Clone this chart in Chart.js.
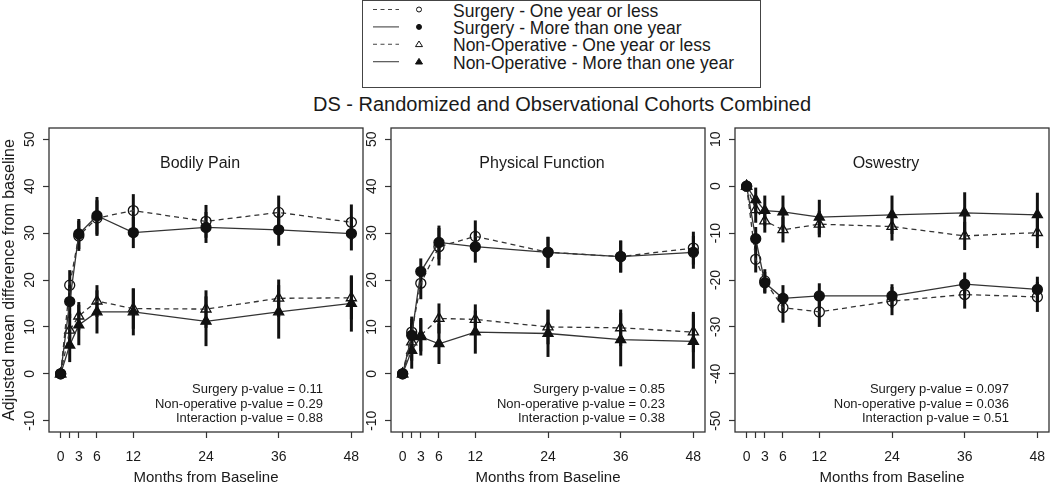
<!DOCTYPE html>
<html>
<head>
<meta charset="utf-8">
<script src="https://cdn.jsdelivr.net/npm/chart.js@4.4.1/dist/chart.umd.min.js"></script>
<style>
  body { margin: 0; width: 1050px; height: 484px; overflow: hidden; background: #fff; position: relative;
         font-family: 'Liberation Sans', Arial, Helvetica, sans-serif; color: #1a1a1a; }
  canvas { position: absolute; top: 120px; }
  #legendBox { position: absolute; left: 362px; top: 0px; width: 399px; height: 88px;
               border: 1.5px solid #444; box-sizing: border-box; }
  .lg { position: absolute; left: 453px; font-size: 17.5px; line-height: 17.5px; white-space: nowrap; }
  #title { position: absolute; left: 212px; width: 700px; top: 94px; text-align: center;
           font-size: 20px; line-height: 20px; white-space: nowrap; }
</style>
</head>
<body>
<div id="legendBox"></div>
<svg id="legendKeys" width="1050" height="90" style="position:absolute;left:0;top:0"></svg>
<div id="legendText"></div>
<div id="title">DS - Randomized and Observational Cohorts Combined</div>
<canvas id="c1" width="366" height="364" style="left:0px"></canvas>
<canvas id="c2" width="366" height="364" style="left:342px"></canvas>
<canvas id="c3" width="366" height="364" style="left:686px"></canvas>
<script>
// months from baseline (0, 6 weeks, 3, 6, 12, 24, 36, 48)
const months = [0, 1.5, 3, 6, 12, 24, 36, 48];
const xTickLabels = ['0', '', '3', '6', '12', '24', '36', '48'];
const seriesNames = [
  'Surgery - One year or less',
  'Surgery - More than one year',
  'Non-Operative - One year or less',
  'Non-Operative - More than one year'
];
const panelTitles = ['Bodily Pain', 'Physical Function', 'Oswestry'];

// Bodily Pain
const bpSurgLe = [0, 18.9, 29.4, 33.2, 34.8, 32.5, 34.4, 32.3];
const bpSurgGt = [0, 15.4, 29.8, 33.7, 30.1, 31.2, 30.7, 29.9];
const bpNonLe  = [0, 9.3, 12.3, 15.5, 13.9, 13.8, 16.1, 16.2];
const bpNonGt  = [0, 6.1, 10.4, 13.2, 13.2, 11.2, 13.2, 15.0];
const bpSurgLeErr = [0, 3.2, 3.2, 3.8, 3.5, 3.5, 3.6, 3.8];
const bpSurgGtErr = [0, 3.5, 3.2, 4.0, 3.3, 3.3, 3.4, 3.6];
const bpNonLeErr  = [0, 3.5, 3.0, 3.4, 4.3, 4.0, 4.0, 4.6];
const bpNonGtErr  = [0, 3.6, 4.3, 4.6, 5.0, 5.3, 5.7, 6.0];

// Physical Function
const pfSurgLe = [0, 8.9, 19.3, 27.1, 29.3, 25.9, 25.0, 26.8];
const pfSurgGt = [0, 8.2, 21.8, 28.0, 27.1, 25.9, 25.0, 25.9];
const pfNonLe  = [0, 6.8, 8.2, 11.8, 11.6, 10.0, 9.8, 8.9];
const pfNonGt  = [0, 5.0, 7.9, 6.4, 8.9, 8.6, 7.3, 6.9];
const pfSurgLeErr = [0, 3.3, 3.4, 4.0, 3.4, 3.3, 3.4, 3.5];
const pfSurgGtErr = [0, 3.5, 2.8, 3.6, 3.4, 3.3, 3.4, 3.5];
const pfNonLeErr  = [0, 4.0, 3.4, 3.2, 3.2, 3.7, 3.9, 4.3];
const pfNonGtErr  = [0, 3.9, 4.0, 4.3, 4.6, 5.0, 5.7, 5.8];

// Oswestry
const odSurgLe = [0, -15.6, -20.2, -25.9, -26.8, -24.5, -23.1, -23.6];
const odSurgGt = [0, -11.2, -20.6, -23.9, -23.4, -23.4, -20.9, -22.0];
const odNonLe  = [0, -5.0, -7.4, -9.3, -8.1, -8.6, -10.6, -9.9];
const odNonGt  = [0, -2.9, -5.2, -5.5, -6.6, -6.1, -5.7, -6.1];
const odSurgLeErr = [0, 2.8, 2.5, 3.2, 3.2, 3.0, 3.0, 3.2];
const odSurgGtErr = [0, 2.5, 2.3, 2.8, 2.7, 2.5, 2.5, 2.7];
const odNonLeErr  = [0, 2.8, 2.5, 2.7, 2.8, 3.0, 3.0, 3.3];
const odNonGtErr  = [0, 2.6, 3.2, 3.5, 3.7, 4.1, 4.4, 4.7];

const yTicksHigh = [-10, 0, 10, 20, 30, 40, 50];
const yTicksLow  = [-50, -40, -30, -20, -10, 0, 10];

const bpNotes = ['Surgery p-value = 0.11', 'Non-operative p-value = 0.29', 'Interaction p-value = 0.88'];
const pfNotes = ['Surgery p-value = 0.85', 'Non-operative p-value = 0.23', 'Interaction p-value = 0.38'];
const odNotes = ['Surgery p-value = 0.097', 'Non-operative p-value = 0.036', 'Interaction p-value = 0.51'];

const FONT = "'Liberation Sans', Arial, Helvetica, sans-serif";
Chart.defaults.font.family = FONT;
Chart.defaults.color = '#1a1a1a';

// legend (R style box at the top)
const svg = document.getElementById('legendKeys');
const lgText = document.getElementById('legendText');
seriesNames.forEach((name, i) => {
  const y = 9.5 + 17.4 * i;
  const dashed = i % 2 === 0;
  const filled = i % 2 === 1;
  let mk;
  if (i < 2) {
    mk = `<circle cx="419" cy="${y}" r="2.5" fill="${filled ? '#111' : '#fff'}" stroke="#111" stroke-width="1"/>`;
  } else {
    mk = `<polygon points="419,${y - 3.3} 422.5,${y + 2.3} 415.5,${y + 2.3}" fill="${filled ? '#111' : '#fff'}" stroke="#111" stroke-width="1"/>`;
  }
  svg.insertAdjacentHTML('beforeend',
    `<line x1="373" x2="399" y1="${y}" y2="${y}" stroke="#444" stroke-width="1.1" ${dashed ? 'stroke-dasharray="4,3.5"' : ''}/>` + mk);
  const d = document.createElement('div');
  d.className = 'lg';
  d.style.top = (2.5 + 17.4 * i) + 'px';
  d.textContent = name;
  lgText.appendChild(d);
});

// box, error bars, rotated y labels, panel title, p-values
const rPlot = {
  id: 'rplot',
  beforeDatasetsDraw(chart) {
    const xs = chart.scales.x, ys = chart.scales.y, ctx = chart.ctx;
    ctx.save();
    ctx.strokeStyle = '#111';
    ctx.lineWidth = 3;
    chart.data.datasets.forEach(ds => {
      ds.data.forEach((p, i) => {
        const e = ds.err[i];
        if (!e) return;
        const px = xs.getPixelForValue(p.x);
        ctx.beginPath();
        ctx.moveTo(px, ys.getPixelForValue(p.y - e));
        ctx.lineTo(px, ys.getPixelForValue(p.y + e));
        ctx.stroke();
      });
    });
    ctx.restore();
  },
  afterDraw(chart, args, opts) {
    const a = chart.chartArea, ctx = chart.ctx, ys = chart.scales.y;
    ctx.save();
    ctx.strokeStyle = '#333';
    ctx.lineWidth = 1.3;
    ctx.strokeRect(a.left, a.top, a.right - a.left, a.bottom - a.top);

    ctx.fillStyle = '#1a1a1a';
    ctx.font = '14px ' + FONT;
    ctx.textAlign = 'center';
    ctx.textBaseline = 'middle';
    ys.ticks.forEach(t => {
      ctx.save();
      ctx.translate(a.left - 19, ys.getPixelForValue(t.value));
      ctx.rotate(-Math.PI / 2);
      ctx.fillText(String(t.value), 0, 0);
      ctx.restore();
    });

    ctx.textBaseline = 'alphabetic';
    ctx.font = '16px ' + FONT;
    ctx.fillText(opts.title, (a.left + a.right) / 2 - 6, a.top + 40);

    ctx.font = '13px ' + FONT;
    ctx.textAlign = 'right';
    opts.notes.forEach((s, i) => ctx.fillText(s, a.right - 40, a.bottom - 39 + i * 14.5));
    ctx.restore();
  }
};

function series(values, errs, style, filled, dashed, order) {
  return {
    data: months.map((m, i) => ({ x: m, y: values[i] })),
    err: errs,
    borderColor: '#333',
    borderWidth: 1.3,
    borderDash: dashed ? [5, 4] : [],
    pointStyle: style,
    pointRadius: style === 'circle' ? 5 : 5.8,
    pointBackgroundColor: filled ? '#111' : 'rgba(0,0,0,0)',
    pointBorderColor: '#111',
    pointBorderWidth: 1.3,
    fill: false,
    tension: 0,
    order: order
  };
}

function makePanel(id, sets, yMin, yMax, yTicks, title, notes, yTitle) {
  new Chart(document.getElementById(id), {
    type: 'line',
    data: {
      datasets: [
        series(sets[0], sets[4], 'circle', false, true, 1),
        series(sets[1], sets[5], 'circle', true, false, 0),
        series(sets[2], sets[6], 'triangle', false, true, 3),
        series(sets[3], sets[7], 'triangle', true, false, 2)
      ]
    },
    options: {
      responsive: false,
      animation: false,
      events: [],
      layout: { padding: { top: 8, right: 3, left: 0, bottom: 0 }, autoPadding: false },
      plugins: {
        legend: { display: false },
        tooltip: { enabled: false },
        rplot: { title: title, notes: notes }
      },
      scales: {
        x: {
          type: 'linear',
          min: -1.92, max: 49.92,
          afterBuildTicks: s => { s.ticks = months.map(v => ({ value: v })); },
          afterFit: s => { s.height = 52; s.paddingLeft = 0; s.paddingRight = 0; },
          grid: { drawOnChartArea: false, tickLength: 6, tickColor: '#333', tickWidth: 1.2 },
          border: { display: false },
          ticks: {
            autoSkip: false, maxRotation: 0, minRotation: 0, padding: 11,
            font: { size: 14 }, color: '#1a1a1a',
            callback: (v, i) => xTickLabels[i]
          },
          title: { display: true, text: 'Months from Baseline', font: { size: 15 },
                   color: '#1a1a1a', padding: { top: 0, bottom: -3 } }
        },
        y: {
          type: 'linear',
          min: yMin, max: yMax,
          afterBuildTicks: s => { s.ticks = yTicks.map(v => ({ value: v })); },
          afterFit: s => { s.width = 49; s.paddingTop = 0; s.paddingBottom = 0; },
          grid: { drawOnChartArea: false, tickLength: 6, tickColor: '#333', tickWidth: 1.2 },
          border: { display: false },
          ticks: { display: false },
          title: { display: yTitle, text: 'Adjusted mean difference from baseline',
                   font: { size: 16 }, color: '#1a1a1a', padding: { top: 0, bottom: 0 } }
        }
      }
    },
    plugins: [rPlot]
  });
}

makePanel('c1', [bpSurgLe, bpSurgGt, bpNonLe, bpNonGt, bpSurgLeErr, bpSurgGtErr, bpNonLeErr, bpNonGtErr],
  -12.4, 52.4, yTicksHigh, panelTitles[0], bpNotes, true);
makePanel('c2', [pfSurgLe, pfSurgGt, pfNonLe, pfNonGt, pfSurgLeErr, pfSurgGtErr, pfNonLeErr, pfNonGtErr],
  -12.4, 52.4, yTicksHigh, panelTitles[1], pfNotes, false);
makePanel('c3', [odSurgLe, odSurgGt, odNonLe, odNonGt, odSurgLeErr, odSurgGtErr, odNonLeErr, odNonGtErr],
  -52.4, 12.4, yTicksLow, panelTitles[2], odNotes, false);
</script>
</body>
</html>
